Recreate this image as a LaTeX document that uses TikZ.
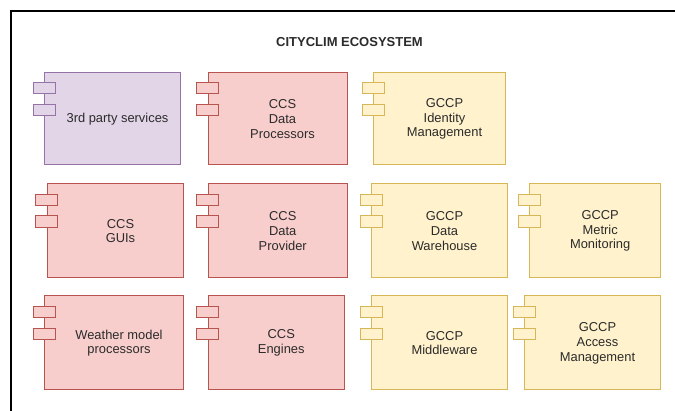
\documentclass[tikz,border=0pt]{standalone}
\usepackage{fontspec}
\setmainfont{Liberation Sans}
\begin{document}
\begin{tikzpicture}[x=1pt,y=-1pt,
  purplec/.style={fill=pfill,draw=pline},
  redc/.style={fill=rfill,draw=rline},
  yellowc/.style={fill=yfill,draw=yline},
  body/.style={line width=1pt,anchor=north west,inner sep=0pt},
  txt/.style={align=center,text=txtc,font=\fontsize{12.9}{14.7}\selectfont,inner sep=0pt},
  title/.style={text=txtc,font=\bfseries\fontsize{13}{15}\selectfont,inner sep=0pt}]
\definecolor{pfill}{HTML}{E1D5E7}\definecolor{pline}{HTML}{9673A6}
\definecolor{rfill}{HTML}{F8CECC}\definecolor{rline}{HTML}{B85450}
\definecolor{yfill}{HTML}{FFF2CC}\definecolor{yline}{HTML}{D6B656}
\definecolor{txtc}{HTML}{2B2B2B}
\clip (0,0) rectangle (675,411);
\fill[white] (0,0) rectangle (675,411);
\draw[line width=1.4pt,black] (11,11) rectangle (700,440);
\node[title] (ttl) at (349.5,42) {CITYCLIM ECOSYSTEM};
% comp: name, x1, y1, x2, y2, style, text
\newcommand{\compbox}[7]{%
  \pgfmathsetmacro{\cw}{#4-#2}\pgfmathsetmacro{\ch}{#5-#3}%
  \node[body,#6,minimum width=\cw pt,minimum height=\ch pt] (#1) at (#2,#3) {};
  \node[txt] (#1-t) at ([xshift=5pt,yshift=-0.5pt]#1.center) {#7};
  \draw[#6,line width=1pt] ([xshift=-11pt,yshift=-10.8pt]#1.north west) rectangle ++(22,11.3);
  \draw[#6,line width=1pt] ([xshift=-11pt,yshift=-32.6pt]#1.north west) rectangle ++(22,11.3);
}
\compbox{tp}{44}{71.7}{180}{164.3}{purplec}{3rd party services}
\compbox{dp}{207.5}{71.7}{346.5}{164.3}{redc}{CCS\\Data\\Processors}
\compbox{im}{373.3}{71.7}{504.7}{164.3}{yellowc}{GCCP\\Identity\\Management}
\compbox{gui}{46.7}{183.3}{183.3}{276.7}{redc}{CCS\\GUIs}
\compbox{prov}{207.5}{183.3}{347}{276.7}{redc}{CCS\\Data\\Provider}
\compbox{dw}{371}{183.3}{507}{276.7}{yellowc}{GCCP\\Data\\Warehouse}
\compbox{mm}{529.3}{183.3}{660}{276.7}{yellowc}{GCCP\\Metric\\Monitoring}
\compbox{wm}{44}{295.5}{183}{388.8}{redc}{Weather model\\processors}
\compbox{eng}{207.5}{295.5}{344}{388.8}{redc}{CCS\\Engines}
\compbox{mw}{371}{295.5}{507}{388.8}{yellowc}{GCCP\\Middleware}
\compbox{am}{524}{295.5}{660}{388.8}{yellowc}{GCCP\\Access\\Management}
\end{tikzpicture}
\end{document}
